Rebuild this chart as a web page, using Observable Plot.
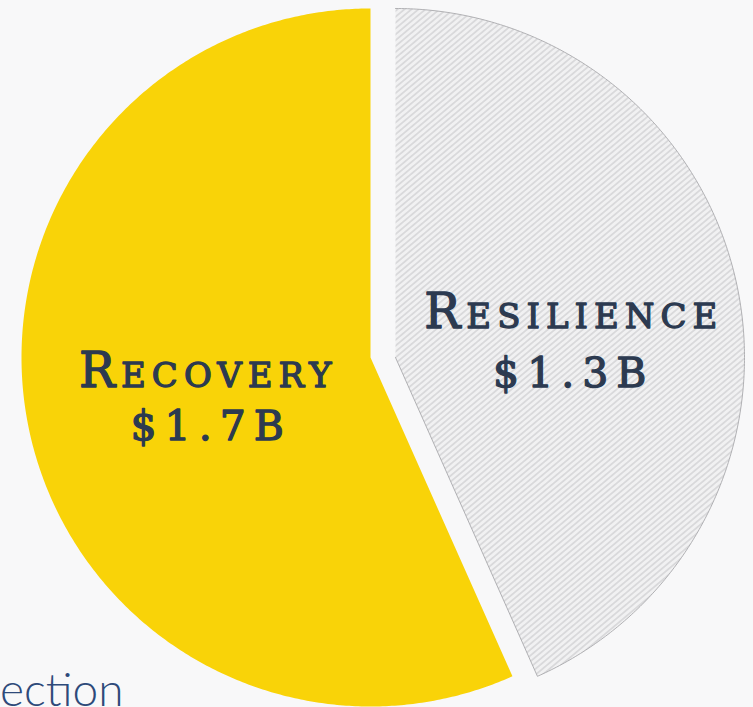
<!DOCTYPE html>
<html><head><meta charset="utf-8">
<script src="https://cdn.jsdelivr.net/npm/d3@7"></script>
<script src="https://cdn.jsdelivr.net/npm/@observablehq/plot@0.6"></script>
<style>
html,body{margin:0;padding:0;background:#f8f8f9;overflow:hidden}
#chart svg{display:block}
</style></head><body><div id="chart"></div>
<script>
// ---- data ----
const categories = ["Resilience", "Recovery"];
const values = [1.3, 1.7];
const valueLabels = ["$1.3B", "$1.7B"];
const sectionTitle = "Section";

// ---- layout / style ----
const W = 753, H = 707;
const cx = 370, cy = 357, R = 349;          // pie centre & radius in px
const explode = {Resilience: [25 / R, 0], Recovery: [0, 0]};
const fills = {Recovery: "#F9D308", Resilience: "url(#hatch)"};
const ink = "#2c3a50";

const arcs = d3.pie().sort(null).startAngle(0).endAngle(2 * Math.PI)(values);

function slicePoints(a, key, closeAtStart) {
  const [ox, oy] = explode[key];
  const pts = [];
  if (closeAtStart) pts.push({x: ox, y: oy});
  const n = Math.max(2, Math.ceil((a.endAngle - a.startAngle) / (Math.PI / 360)));
  for (let i = 0; i <= n; i++) {
    const t = a.startAngle + (a.endAngle - a.startAngle) * i / n;
    pts.push({x: ox + Math.sin(t), y: oy + Math.cos(t)});
  }
  pts.push({x: ox, y: oy});
  return pts;
}

const slices = arcs.map((a, i) => ({key: categories[i], pts: slicePoints(a, categories[i], true)}));
const outlines = arcs.map((a, i) => ({key: categories[i], pts: slicePoints(a, categories[i], false)}));
const labels = arcs.map((a, i) => {
  const mid = (a.startAngle + a.endAngle) / 2;
  const [ox, oy] = explode[categories[i]];
  return {key: categories[i], name: categories[i], value: valueLabels[i],
          x: ox + 0.49 * Math.sin(mid), y: oy + 0.49 * Math.cos(mid)};
});
const byKey = k => labels.filter(d => d.key === k);

const sliceMarks = slices.map(s => Plot.line(s.pts, {x: "x", y: "y", fill: fills[s.key], stroke: "none", curve: "linear"}));
const resOutline = outlines.filter(o => o.key === "Resilience")
  .map(o => Plot.line(o.pts, {x: "x", y: "y", stroke: "#a9a9ad", strokeWidth: 0.9, fill: "none"}));

const nameStyle = {x: "x", y: "y", text: "name", fontSize: 48, fontVariant: "small-caps",
  fontFamily: "DejaVu Serif", fill: ink, stroke: ink, strokeWidth: 1.3, lineAnchor: "middle"};
const valueStyle = {x: "x", y: "y", text: "value", fontSize: 41,
  fontFamily: "DejaVu Serif", fill: ink, stroke: ink, strokeWidth: 1.3, lineAnchor: "middle"};

const chart = Plot.plot({
  width: W, height: H, margin: 0,
  x: {domain: [-cx / R, (W - cx) / R], axis: null},
  y: {domain: [-(H - cy) / R, cy / R], axis: null},
  style: {background: "transparent", overflow: "visible"},
  marks: [
    ...sliceMarks,
    ...resOutline,
    Plot.text(byKey("Recovery"), {...nameStyle, dx: 5, dy: -21}),
    Plot.text(byKey("Recovery"), {...valueStyle, dx: 8, dy: 34}),
    Plot.text(byKey("Resilience"), {...nameStyle, dx: 11, dy: -9}),
    Plot.text(byKey("Resilience"), {...valueStyle, dx: 11, dy: 52}),
    Plot.text([sectionTitle], {frameAnchor: "bottom-left", textAnchor: "end", lineAnchor: "bottom",
      dx: 123, dy: -2, fontSize: 46, fontFamily: "Lato", fontWeight: 300, fill: "#2e4a7a"})
  ]
});

// hatch pattern + letter spacing (styling)
const ns = "http://www.w3.org/2000/svg";
const defs = document.createElementNS(ns, "defs");
defs.innerHTML = `<pattern id="hatch" patternUnits="userSpaceOnUse" width="4.5" height="4.5" patternTransform="rotate(-40)">
  <rect width="4.5" height="4.5" fill="#f1f1f2"/><rect width="4.5" height="1.8" fill="#d9d9db"/></pattern>`;
chart.insertBefore(defs, chart.firstChild);
chart.querySelectorAll("text").forEach(t => {
  if (categories.includes(t.textContent)) t.style.letterSpacing = "6px";
  if (valueLabels.includes(t.textContent)) t.style.letterSpacing = "8px";
});
document.getElementById("chart").appendChild(chart);
</script></body></html>
